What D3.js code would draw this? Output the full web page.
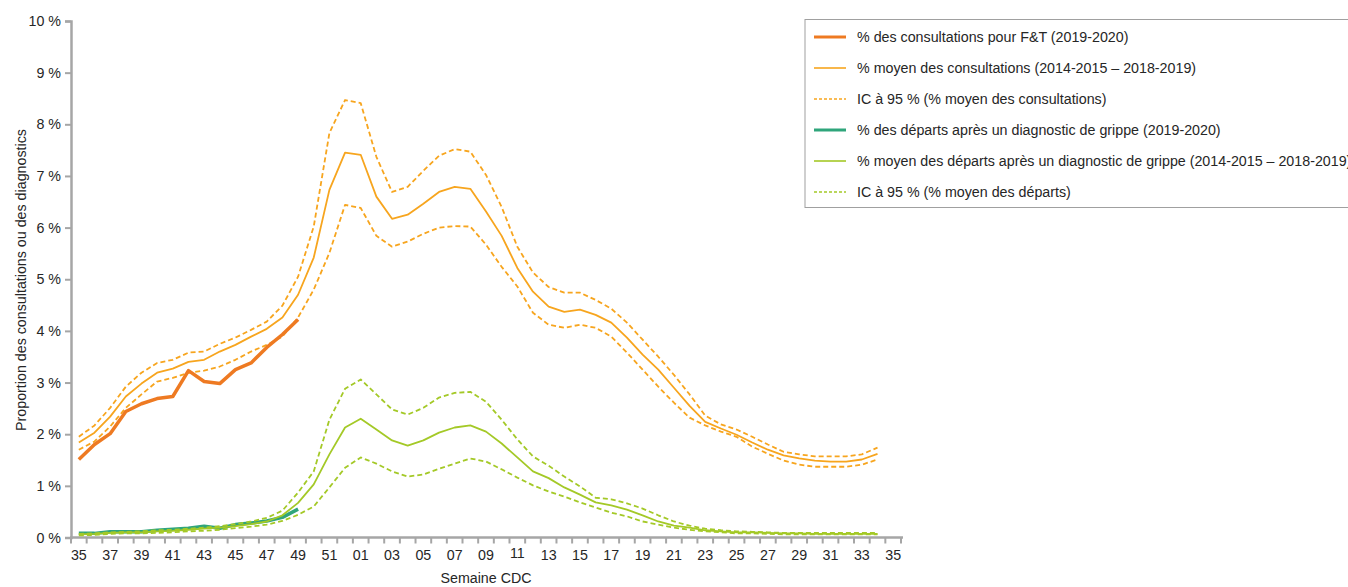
<!DOCTYPE html>
<html>
<head>
<meta charset="utf-8">
<script src="https://cdn.jsdelivr.net/npm/d3@7"></script>
<style>
  body { margin: 0; background: #fff; }
  text { font-family: "Liberation Sans", Arial, sans-serif; fill: #262626; }
</style>
</head>
<body>
<svg id="chart" width="1348" height="587"></svg>
<script>
// semaines CDC (axe)
const weeks = ["35","36","37","38","39","40","41","42","43","44","45","46","47","48","49","50","51","52",
  "01","02","03","04","05","06","07","08","09","10","11","12","13","14","15","16","17","18","19","20",
  "21","22","23","24","25","26","27","28","29","30","31","32","33","34","35"];

const yTicks = [0, 1, 2, 3, 4, 5, 6, 7, 8, 9, 10];

// % des consultations pour F&T
const consultCurrent = [1.51,1.80,2.01,2.44,2.59,2.69,2.73,3.23,3.02,2.98,3.25,3.38,3.68,3.93,4.22];
const consultMean = [1.84,2.03,2.34,2.73,2.98,3.19,3.27,3.40,3.44,3.60,3.73,3.89,4.04,4.26,4.70,
  5.42,6.73,7.45,
  7.41,6.60,6.17,6.25,6.46,6.69,6.79,6.75,6.31,5.84,5.22,4.76,4.47,
  4.37,4.41,4.31,4.16,3.87,3.54,3.25,2.90,2.55,2.24,2.11,1.99,1.84,1.70,1.59,1.53,1.49,1.47,1.47,1.51,1.62];
const consultHigh = [1.95,2.17,2.51,2.92,3.19,3.38,3.44,3.58,3.60,3.75,3.87,4.02,4.18,4.49,5.05,
  6.02,7.83,8.47,
  8.41,7.37,6.69,6.79,7.10,7.39,7.52,7.47,7.02,6.40,5.63,5.13,4.85,
  4.74,4.74,4.60,4.43,4.16,3.83,3.50,3.15,2.77,2.36,2.19,2.09,1.95,1.80,1.66,1.61,1.57,1.57,1.57,1.61,1.74];
const consultLow = [1.70,1.86,2.15,2.51,2.77,3.02,3.09,3.19,3.23,3.31,3.44,3.60,3.73,3.89,4.26,
  4.80,5.51,6.44,
  6.38,5.84,5.63,5.73,5.88,6.00,6.03,6.02,5.67,5.24,4.86,4.35,4.12,
  4.06,4.12,4.06,3.89,3.58,3.25,2.92,2.61,2.32,2.17,2.05,1.95,1.76,1.62,1.49,1.41,1.37,1.37,1.37,1.41,1.51];

// % des départs après un diagnostic de grippe
const departCurrent = [0.08,0.08,0.11,0.11,0.11,0.14,0.16,0.18,0.22,0.18,0.25,0.28,0.32,0.39,0.55];
const departMean = [0.06,0.07,0.09,0.10,0.10,0.12,0.13,0.15,0.17,0.19,0.22,0.26,0.31,0.43,0.67,
  1.03,1.61,2.13,
  2.30,2.09,1.88,1.78,1.88,2.03,2.13,2.17,2.05,1.82,1.55,1.28,1.15,
  0.97,0.83,0.68,0.62,0.54,0.43,0.31,0.23,0.19,0.14,0.12,0.10,0.10,0.09,0.08,0.08,0.07,0.07,0.07,0.07,0.07];
const departHigh = [0.07,0.08,0.10,0.11,0.12,0.14,0.15,0.17,0.19,0.22,0.26,0.31,0.38,0.52,0.87,
  1.28,2.28,2.88,
  3.06,2.77,2.48,2.38,2.51,2.71,2.80,2.82,2.63,2.28,1.90,1.57,1.39,
  1.18,0.99,0.77,0.74,0.66,0.56,0.43,0.31,0.23,0.17,0.14,0.12,0.11,0.10,0.09,0.09,0.09,0.09,0.09,0.09,0.09];
const departLow = [0.04,0.05,0.07,0.08,0.08,0.09,0.10,0.12,0.13,0.15,0.18,0.21,0.25,0.32,0.44,
  0.60,0.97,1.35,
  1.55,1.43,1.28,1.18,1.22,1.33,1.43,1.53,1.47,1.32,1.16,1.01,0.89,
  0.79,0.68,0.58,0.48,0.41,0.31,0.25,0.19,0.15,0.12,0.10,0.08,0.08,0.07,0.06,0.06,0.06,0.06,0.06,0.06,0.06];

const seriesNames = [
  "% des consultations pour F&T (2019-2020)",
  "% moyen des consultations (2014-2015 \u2013 2018-2019)",
  "IC \u00e0 95 % (% moyen des consultations)",
  "% des d\u00e9parts apr\u00e8s un diagnostic de grippe (2019-2020)",
  "% moyen des d\u00e9parts apr\u00e8s un diagnostic de grippe (2014-2015 \u2013 2018-2019)",
  "IC \u00e0 95 % (% moyen des d\u00e9parts)"
];

const orangeDark = "#ee7a22", orange = "#f7a51e", greenDark = "#2fa57b", green = "#a4c927";

const series = [
  { values: [consultLow, consultHigh], color: orange, width: 1.8, dash: "5,3", legend: 2 },
  { values: [consultMean], color: orange, width: 1.8, dash: null, legend: 1 },
  { values: [consultCurrent], color: orangeDark, width: 3.5, dash: null, legend: 0 },
  { values: [departCurrent], color: greenDark, width: 3.5, dash: null, legend: 3 },
  { values: [departMean], color: green, width: 1.8, dash: null, legend: 4 },
  { values: [departLow, departHigh], color: green, width: 1.8, dash: "5,3", legend: 5 }
];

const svg = d3.select("#chart");
const mLeft = 71, mRight = 901, mTop = 21, mBottom = 537.5;
const fs = 14.25;

const x = d3.scaleBand()
  .domain(d3.range(weeks.length))
  .range([mLeft, mRight])
  .paddingInner(0).paddingOuter(0);
const cx = i => x(i) + x.bandwidth() / 2;

const y = d3.scaleLinear().domain([0, 10]).range([mBottom, mTop]);

// axe Y
const yAxis = svg.append("g")
  .attr("transform", `translate(${mLeft},0)`)
  .call(d3.axisLeft(y).tickValues(yTicks).tickSize(6).tickPadding(4).tickFormat(d => d + " %"));
yAxis.select(".domain").attr("stroke", "#a6a6a6").attr("stroke-width", 2.5);
yAxis.selectAll(".tick line").attr("stroke", "#a6a6a6").attr("stroke-width", 2);
yAxis.selectAll(".tick text").attr("font-size", fs).style("fill", "#262626");

// axe X : traits entre les catégories
const xg = svg.append("g").attr("transform", `translate(0,${mBottom})`);
const edges = d3.range(weeks.length + 1).map(i => mLeft + i * x.step());
xg.selectAll("line.tk").data(edges).enter().append("line")
  .attr("class", "tk")
  .attr("x1", d => d).attr("x2", d => d).attr("y1", 0).attr("y2", 6)
  .attr("stroke", "#a6a6a6").attr("stroke-width", 2);
xg.append("line").attr("x1", mLeft - 1).attr("x2", mRight + 2).attr("y1", 0).attr("y2", 0)
  .attr("stroke", "#a6a6a6").attr("stroke-width", 2.5);
xg.selectAll("text.lbl").data(d3.range(0, weeks.length, 2)).enter().append("text")
  .attr("class", "lbl")
  .attr("x", d => cx(d))
  .attr("y", d => weeks[d] === "11" ? 20 : 22)
  .attr("text-anchor", "middle").attr("font-size", fs)
  .text(d => weeks[d]);

svg.append("text").attr("x", 486).attr("y", 583).attr("text-anchor", "middle")
  .attr("font-size", fs).text("Semaine CDC");
svg.append("text").attr("transform", "translate(26,280) rotate(-90)")
  .attr("text-anchor", "middle").attr("font-size", fs)
  .text("Proportion des consultations ou des diagnostics");

// courbes
const line = d3.line().x((d, i) => cx(i)).y(d => y(d));
series.forEach(s => {
  s.values.forEach(v => {
    svg.append("path").datum(v)
      .attr("d", line)
      .attr("fill", "none")
      .attr("stroke", s.color)
      .attr("stroke-width", s.width)
      .attr("stroke-dasharray", s.dash)
      .attr("stroke-linejoin", "round");
  });
});

// légende
const lg = svg.append("g");
lg.append("rect").attr("x", 805).attr("y", 19.5).attr("width", 600).attr("height", 188)
  .attr("fill", "#fff").attr("stroke", "#a0a0a0").attr("stroke-width", 1);
const legendItems = seriesNames.map((name, i) => {
  const s = series.find(d => d.legend === i);
  return { name, color: s.color, width: s.width, dash: s.dash };
});
legendItems.forEach((d, i) => {
  const yy = 37 + i * 31;
  lg.append("line").attr("x1", 814).attr("x2", 846).attr("y1", yy).attr("y2", yy)
    .attr("stroke", d.color).attr("stroke-width", d.width === 3.5 ? 3 : 1.6)
    .attr("stroke-dasharray", d.dash ? "3,2" : null);
  lg.append("text").attr("x", 857).attr("y", yy + 5).attr("font-size", fs).text(d.name);
});
</script>
</body>
</html>
